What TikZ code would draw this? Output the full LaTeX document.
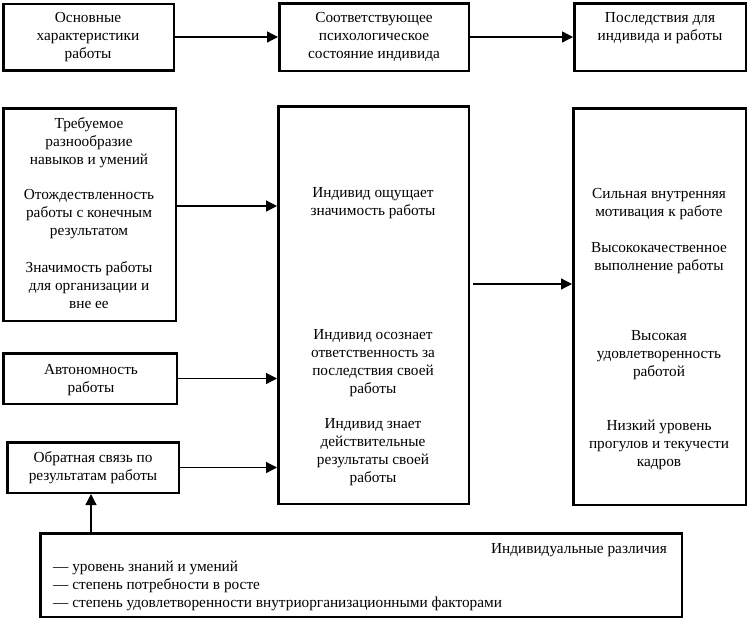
\documentclass[tikz,border=0pt]{standalone}
\usepackage{fontspec}
\setmainfont{Liberation Serif}
\usetikzlibrary{arrows.meta}
\tikzset{
  x=1pt,y=-1pt,
  box/.style={draw,line width=2.5pt,inner sep=0pt},
  txt/.style={align=center,inner sep=0pt,font=\fontsize{15.3}{18}\selectfont},
  ltxt/.style={anchor=west,inner sep=0pt,font=\fontsize{15.3}{18}\selectfont},
  arr/.style={line width=1.3pt,-{Triangle[length=11pt,width=11pt]}}
}
\begin{document}
\begin{tikzpicture}
\useasboundingbox (0,0) rectangle (749,621);
% boxes
\node[box,minimum width=170.5pt,minimum height=66.5pt] (A) at (88.5,37) {};
\node[box,minimum width=189.5pt,minimum height=67.5pt] (B) at (374,37) {};
\node[box,minimum width=171.5pt,minimum height=67.5pt] (C) at (660,37) {};
\node[box,minimum width=172.5pt,minimum height=212.5pt] (D) at (89.5,214.5) {};
\node[box,minimum width=190.5pt,minimum height=397.5pt] (E) at (373.5,305) {};
\node[box,minimum width=172.5pt,minimum height=396.5pt] (F) at (659.5,306.5) {};
\node[box,minimum width=173.5pt,minimum height=50.5pt] (G) at (90,378.5) {};
\node[box,minimum width=171.5pt,minimum height=50.5pt] (H) at (93,467.5) {};
\node[box,minimum width=641.5pt,minimum height=83.5pt] (I) at (361,575) {};
% texts
\node[txt] (tA) at (88,37) {Основные\\характеристики\\работы};
\node[txt] (tB) at (374,37) {Соответствующее\\психологическое\\состояние индивида};
\node[txt] (tC) at (660,28) {Последствия для\\индивида и работы};
\node[txt] (tD1) at (89,143) {Требуемое\\разнообразие\\навыков и умений};
\node[txt] (tD2) at (89,214) {Отождествленность\\работы с конечным\\результатом};
\node[txt] (tD3) at (89,285) {Значимость работы\\для организации и\\вне ее};
\node[txt] (tE1) at (373,203) {Индивид ощущает\\значимость работы};
\node[txt] (tE2) at (373,363) {Индивид осознает\\ответственность за\\последствия своей\\работы};
\node[txt] (tE3) at (373,452) {Индивид знает\\действительные\\результаты своей\\работы};
\node[txt] (tF1) at (659,204) {Сильная внутренняя\\мотивация к работе};
\node[txt] (tF2) at (659,258) {Высококачественное\\выполнение работы};
\node[txt] (tF3) at (659,355) {Высокая\\удовлетворенность\\работой};
\node[txt] (tF4) at (659,445) {Низкий уровень\\прогулов и текучести\\кадров};
\node[txt] (tG) at (91,380) {Автономность\\работы};
\node[txt] (tH) at (93,468) {Обратная связь по\\результатам работы};
\node[txt,anchor=east] (tI) at (667,550) {Индивидуальные различия};
\node[ltxt] (l1) at (53,568) {— уровень знаний и умений};
\node[ltxt] (l2) at (53,586) {— степень потребности в росте};
\node[ltxt] (l3) at (53,604) {— степень удовлетворенности внутриорганизационными факторами};
% arrows
\draw[arr] (A.east) -- (A.east -| B.west);
\draw[arr] (B.east) -- (B.east -| C.west);
\draw[arr] ([yshift=8.5pt]D.east) -- ([yshift=8.5pt]D.east -| E.west);
\draw[arr] ([xshift=3pt,yshift=21pt]E.east) -- ([yshift=21pt]E.east -| F.west);
\draw[arr] (G.east) -- (G.east -| E.west);
\draw[arr] (H.east) -- (H.east -| E.west);
\draw[arr] ([xshift=-2pt]H.south |- I.north) -- ([xshift=-2pt]H.south);
\end{tikzpicture}
\end{document}
